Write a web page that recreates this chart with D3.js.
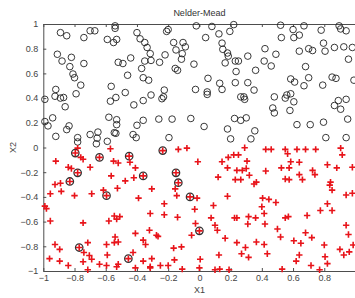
<!DOCTYPE html>
<html lang="en">
<head>
    <meta charset="UTF-8">
    <title>Nelder-Mead</title>
    <script src="https://d3js.org/d3.v7.min.js"></script>
    <style>
        body {
            margin: 0;
            background: #fff;
            overflow: hidden;
        }
        text {
            font-family: "Liberation Sans", Arial, sans-serif;
        }
    </style>
</head>
<body>
<main></main>
<script>
    // ticks
    var xTicks = [-1, -0.8, -0.6, -0.4, -0.2, 0, 0.2, 0.4, 0.6, 0.8, 1];
    var yTicks = [-1, -0.8, -0.6, -0.4, -0.2, 0, 0.2, 0.4, 0.6, 0.8, 1];

    // points drawn with black open circles (X2 > 0)
    var circles = [
        [-0.89,0.93],[-0.85,0.905],[-0.74,0.89],[-0.70,0.945],[-0.67,0.945],[-0.59,0.875],[-0.55,0.85],[-0.53,0.875],[-0.54,0.985],[-0.54,0.965],
        [-0.91,0.755],[-0.88,0.70],[-0.82,0.73],[-0.83,0.655],[-0.81,0.595],[-0.80,0.565],[-0.74,0.68],[-0.76,0.505],[-0.79,0.435],
        [-0.92,0.47],[-0.925,0.415],[-0.89,0.40],[-0.87,0.405],[-0.86,0.33],[-0.99,0.39],[-0.94,0.24],[-0.99,0.21],[-0.97,0.175],[-0.92,0.09],
        [-0.85,0.145],[-0.835,0.175],[-0.78,0.08],[-0.78,0.045],[-0.70,0.105],[-0.65,0.125],[-0.655,0.075],[-0.66,0.03],[-0.59,0.05],
        [-0.58,0.245],[-0.565,0.495],[-0.57,0.375],[-0.535,0.405],[-0.53,0.225],[-0.53,0.185],[-0.545,0.12],[-0.535,0.115],
        [-0.52,0.69],[-0.49,0.68],[-0.46,0.585],[-0.475,0.445],[-0.44,0.725],[-0.42,0.345],[-0.40,0.93],[-0.36,0.38],[-0.40,0.18],
        [-0.425,0.105],[-0.405,0.08],[-0.36,0.22],[-0.38,0.88],[-0.35,0.85],[-0.335,0.81],[-0.315,0.76],[-0.35,0.70],[-0.31,0.705],
        [-0.37,0.64],[-0.36,0.565],[-0.325,0.545],[-0.31,0.425],[-0.26,0.23],[-0.255,0.69],[-0.24,0.395],[-0.23,0.41],[-0.225,0.465],
        [-0.195,0.08],[-0.175,0.23],[-0.22,0.75],[-0.21,0.94],[-0.20,0.955],[-0.165,0.85],[-0.155,0.64],[-0.15,0.79],
        [-0.02,0.985],[0.08,0.98],[0.22,0.995],[0.04,0.89],[0.125,0.92],[0.195,0.94],[-0.105,0.85],[-0.09,0.815],[-0.11,0.76],
        [-0.115,0.715],[-0.035,0.675],[-0.14,0.625],[0.145,0.845],[0.15,0.795],[0.18,0.765],[0.185,0.74],[0.165,0.685],[0.23,0.70],
        [0.25,0.70],[0.31,0.74],[0.235,0.615],[0.36,0.625],[0.055,0.56],[-0.025,0.47],[0.05,0.45],[0.05,0.43],[0.13,0.52],[0.145,0.47],
        [0.23,0.525],[0.31,0.525],[0.35,0.465],[0.265,0.41],[0.285,0.41],[0.29,0.39],
        [-0.055,0.235],[0.03,0.17],[0.18,0.15],[0.225,0.235],[0.265,0.22],[0.30,0.24],[0.355,0.135],[0.20,0.07],[0.33,0.07],
        [0.42,0.80],[0.49,0.755],[0.415,0.70],[0.46,0.66],[0.52,0.99],[0.525,0.89],[0.60,0.955],[0.605,0.89],[0.64,0.91],[0.67,0.985],
        [0.64,0.78],[0.70,0.80],[0.725,0.785],[0.78,0.95],[0.795,0.845],[0.805,0.78],[0.865,0.81],[0.895,0.985],[0.905,0.96],[0.94,0.945],
        [0.925,0.815],[0.98,0.81],[0.955,0.715],[0.68,0.655],[0.585,0.555],[0.61,0.53],[0.70,0.565],[0.67,0.50],[0.79,0.505],[0.85,0.57],
        [0.875,0.56],[0.99,0.545],[0.48,0.41],[0.55,0.40],[0.56,0.425],[0.585,0.435],[0.605,0.37],[0.47,0.32],[0.48,0.28],[0.58,0.30],
        [0.89,0.38],[0.865,0.34],[0.905,0.31],[0.94,0.39],[0.625,0.185],[0.71,0.185],[0.795,0.205],[0.95,0.23],[0.81,0.08],[0.94,0.08]
    ];

    // points drawn with red plus markers (X2 < 0)
    var crosses = [
        [-0.78,-0.005],[-0.57,-0.01],[-0.135,-0.015],[-0.08,-0.005],[0.905,-0.005],
        [-0.92,-0.11],[-0.84,-0.16],[-0.82,-0.17],[-0.76,-0.08],[-0.745,-0.095],[-0.70,-0.16],[-0.55,-0.11],[-0.52,-0.125],
        [-0.41,-0.165],[-0.42,-0.245],[-0.565,-0.23],[-0.475,-0.27],[-0.925,-0.30],[-0.89,-0.29],[-0.885,-0.355],[-0.955,-0.375],
        [-0.80,-0.39],[-0.69,-0.375],[-0.615,-0.345],[-0.525,-0.33],[-0.39,-0.41],[-0.305,-0.335],[-0.445,-0.12],
        [-0.155,-0.335],[-0.145,-0.39],[-0.99,-0.475],[-0.98,-0.495],[-0.955,-0.595],[-0.745,-0.61],[-0.58,-0.595],[-0.545,-0.555],
        [-0.53,-0.58],[-0.51,-0.56],[-0.315,-0.535],[-0.225,-0.545],[-0.225,-0.455],[-0.14,-0.565],[-0.41,-0.695],[-0.32,-0.67],
        [-0.275,-0.71],[-0.265,-0.72],[-0.54,-0.725],[-0.545,-0.77],[-0.595,-0.785],[-0.36,-0.75],[-0.345,-0.785],[-0.925,-0.785],
        [-0.895,-0.825],[-0.715,-0.77],[-0.74,-0.85],[-0.705,-0.875],[-0.69,-0.905],[-0.59,-0.87],[-0.64,-0.945],[-0.745,-0.925],
        [-0.425,-0.85],[-0.36,-0.92],[-0.305,-0.9],[-0.96,-0.9],[-0.895,-0.92],[-0.84,-0.955],[-0.715,-0.99],[-0.595,-0.955],
        [-0.53,-0.965],[-0.41,-0.975],[-0.315,-0.965],[-0.25,-0.955],[-0.20,-0.955],[-0.165,-0.815],[-0.16,-0.91],
        [-0.52,-0.765],[-0.315,-0.975],[-0.52,-0.945],
        [-0.01,-0.115],[0.145,-0.115],[0.185,-0.08],[0.22,-0.06],[0.25,-0.06],[0.29,-0.002],[0.305,-0.11],[0.18,-0.165],[0.24,-0.185],
        [0.275,-0.185],[0.30,-0.17],[0.32,-0.225],[0.23,-0.26],[0.265,-0.26],[0.35,-0.295],[0.365,-0.28],[0.12,-0.24],
        [0.425,-0.015],[0.46,-0.015],[0.55,-0.015],[0.625,-0.015],[0.68,-0.015],[0.745,-0.015],[0.915,-0.06],[0.565,-0.05],
        [0.585,-0.115],[0.64,-0.12],[0.82,-0.14],[0.425,-0.19],[0.525,-0.165],[0.575,-0.165],[0.64,-0.22],[0.66,-0.26],[0.725,-0.185],
        [0.74,-0.22],[0.88,-0.165],[0.98,-0.16],[0.55,-0.255],[0.575,-0.26],[0.84,-0.28],[0.835,-0.305],[0.85,-0.345],
        [-0.015,-0.41],[0.18,-0.395],[0.09,-0.47],[-0.03,-0.50],[0.075,-0.57],[0.10,-0.63],[0.115,-0.67],[0.165,-0.735],[0.405,-0.41],
        [0.445,-0.42],[0.49,-0.445],[0.40,-0.48],[0.415,-0.535],[0.225,-0.57],[0.24,-0.57],[0.315,-0.56],[0.36,-0.57],[0.31,-0.62],
        [0.42,-0.62],[0.55,-0.57],[0.57,-0.56],[0.69,-0.55],[0.775,-0.51],[0.82,-0.455],[0.94,-0.385],[0.98,-0.37],[0.94,-0.63],
        [0.955,-0.705],[-0.025,-0.615],[-0.05,-0.71],[-0.115,-0.805],[0.24,-0.77],[0.295,-0.81],[0.27,-0.86],[0.315,-0.89],
        [0.365,-0.765],[0.415,-0.785],[0.435,-0.86],[0.52,-0.725],[0.50,-0.66],[0.605,-0.755],[0.68,-0.69],[0.72,-0.73],[0.80,-0.79],
        [0.90,-0.825],[0.925,-0.87],[0.96,-0.845],[0.985,-0.79],[0.125,-0.87],[0.005,-0.905],[0.0,-0.975],[-0.11,-0.985],[0.10,-0.99],
        [0.13,-0.985],[0.19,-0.99],[0.53,-0.985],[0.64,-0.87],[0.62,-0.92],[0.715,-0.955],[0.77,-0.99],[0.805,-0.885],[0.82,-0.94],
        [0.85,-0.51],[0.65,-0.775]
    ];

    // red plus markers that also carry a black ring
    var ringed = [
        [-0.795,-0.045],[-0.64,-0.08],[-0.45,-0.07],[-0.235,-0.025],[-0.78,-0.205],[-0.83,-0.275],[-0.36,-0.23],
        [-0.595,-0.39],[-0.15,-0.205],[-0.135,-0.285],[-0.06,-0.40],[0.0,-0.675],[-0.77,-0.81],[-0.455,-0.90]
    ];

    var w = 355, h = 298;
    var m = {top: 24, left: 43.3, bottom: 27, right: -0.5};

    var xScale = d3.scaleLinear().domain([-1, 1]).range([m.left, w - m.right]);
    var yScale = d3.scaleLinear().domain([-1, 1]).range([h - m.bottom, m.top]);

    var svg = d3.select('main')
                .append('svg')
                .attr('width', w)
                .attr('height', h);

    var axisColor = '#4d4d4d';

    function styleAxis(g) {
        g.selectAll('path.domain').attr('stroke', axisColor);
        g.selectAll('line').attr('stroke', axisColor);
        g.selectAll('text').attr('fill', '#444').attr('font-size', '9px');
    }

    // the last x label sits past the window edge in the original, so it is left blank
    var xLabel = function(d){ return d === 1 ? '' : d3.format('')(d); };

    // bottom axis, ticks inward
    svg.append('g')
        .attr('transform', 'translate(0,' + yScale(-1) + ')')
        .call(d3.axisBottom(xScale).tickValues(xTicks).tickSizeInner(-3).tickSizeOuter(0).tickPadding(4).tickFormat(xLabel))
        .call(styleAxis);

    // top axis, no labels
    svg.append('g')
        .attr('transform', 'translate(0,' + yScale(1) + ')')
        .call(d3.axisTop(xScale).tickValues(xTicks).tickSizeInner(-3).tickSizeOuter(0).tickFormat(''))
        .call(styleAxis);

    // left axis
    svg.append('g')
        .attr('transform', 'translate(' + xScale(-1) + ',0)')
        .call(d3.axisLeft(yScale).tickValues(yTicks).tickSizeInner(-3).tickSizeOuter(0).tickPadding(5).tickFormat(d3.format('')))
        .call(styleAxis);

    // circles
    svg.append('g').selectAll('circle')
        .data(circles)
        .enter()
        .append('circle')
        .attr('cx', function(d){ return xScale(d[0]); })
        .attr('cy', function(d){ return yScale(d[1]); })
        .attr('r', 3.3)
        .attr('fill', 'none')
        .attr('stroke', '#222')
        .attr('stroke-width', 0.9);

    // rings around some plus markers
    svg.append('g').selectAll('circle')
        .data(ringed)
        .enter()
        .append('circle')
        .attr('cx', function(d){ return xScale(d[0]); })
        .attr('cy', function(d){ return yScale(d[1]); })
        .attr('r', 3.7)
        .attr('fill', 'none')
        .attr('stroke', '#333')
        .attr('stroke-width', 1.3);

    // plus markers
    var plusPath = 'M-3.2,0H3.2M0,-3.2V3.2';
    svg.append('g').selectAll('path')
        .data(crosses.concat(ringed))
        .enter()
        .append('path')
        .attr('transform', function(d){ return 'translate(' + xScale(d[0]) + ',' + yScale(d[1]) + ')'; })
        .attr('d', plusPath)
        .attr('stroke', '#e8141a')
        .attr('stroke-width', 1.6)
        .attr('fill', 'none');

    // labels
    svg.append('text')
        .attr('x', (xScale(-1) + xScale(1)) / 2)
        .attr('y', 16)
        .attr('text-anchor', 'middle')
        .attr('font-size', '9px')
        .attr('fill', '#333')
        .text('Nelder-Mead');

    svg.append('text')
        .attr('x', xScale(0))
        .attr('y', 293)
        .attr('text-anchor', 'middle')
        .attr('font-size', '9px')
        .attr('fill', '#444')
        .text('X1');

    svg.append('text')
        .attr('transform', 'translate(16,' + yScale(0) + ') rotate(-90)')
        .attr('text-anchor', 'middle')
        .attr('font-size', '9px')
        .attr('fill', '#444')
        .text('X2');
</script>
</body>
</html>
